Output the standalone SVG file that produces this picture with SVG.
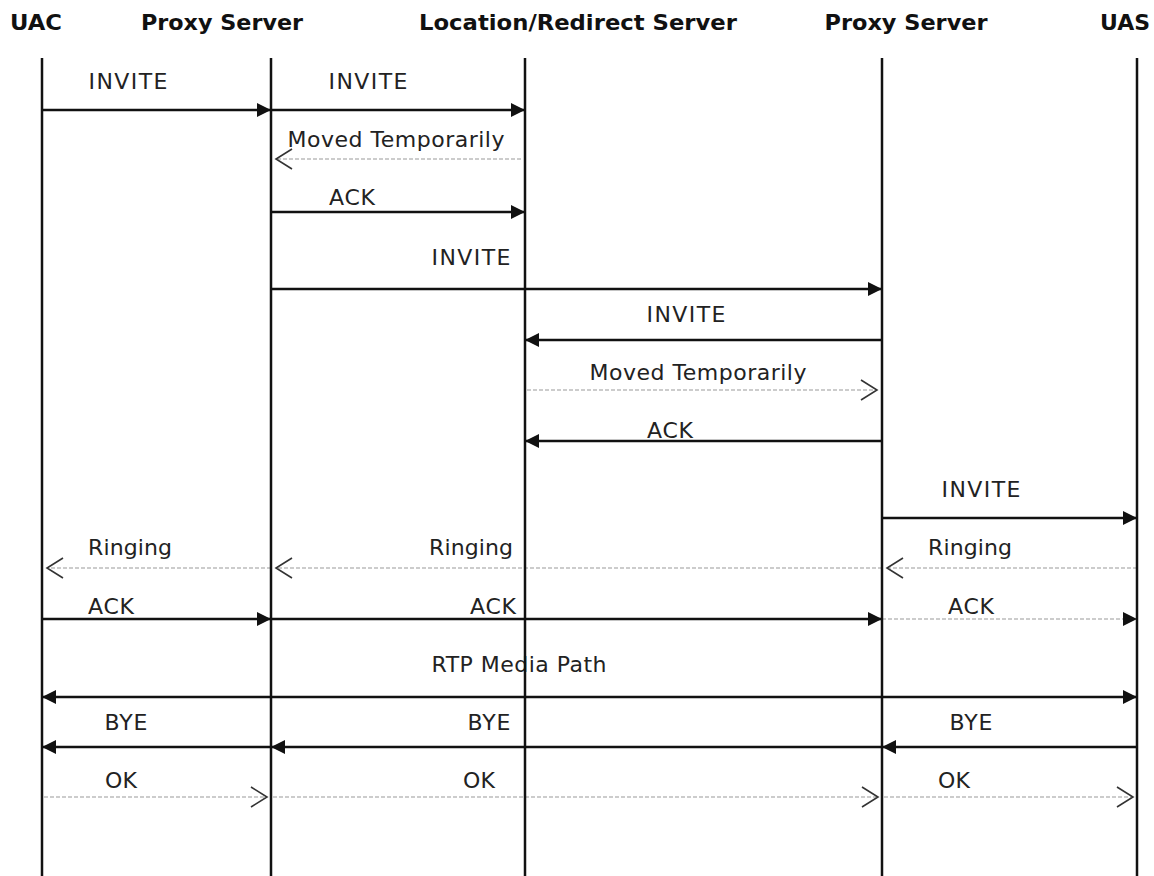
<svg xmlns="http://www.w3.org/2000/svg" width="1154" height="876" viewBox="0 0 1154 876">
<style>
.hdr{font-family:"DejaVu Sans","Liberation Sans",sans-serif;font-weight:bold;font-size:21px;fill:#111;text-anchor:middle}
.lbl{font-family:"DejaVu Sans","Liberation Sans",sans-serif;font-size:22px;fill:#222;text-anchor:middle}
.life{stroke:#111;stroke-width:2.5;fill:none}
.sol{stroke:#111;stroke-width:2.4;fill:none;marker-end:url(#fa)}
.dsh{stroke:#999;stroke-width:1.2;stroke-dasharray:4 2;fill:none;marker-end:url(#oa)}
.dshf{stroke:#999;stroke-width:1.2;stroke-dasharray:4 2;fill:none;marker-end:url(#fa)}
</style>
<defs>
<marker id="fa" markerUnits="userSpaceOnUse" markerWidth="15" markerHeight="16" refX="14" refY="8" orient="auto-start-reverse" viewBox="0 0 15 16">
<path d="M0,1 L14,8 L0,15 z" fill="#111"/>
</marker>
<marker id="oa" markerUnits="userSpaceOnUse" markerWidth="20" markerHeight="24" refX="17" refY="11" orient="auto" viewBox="0 0 20 24">
<path d="M1,1 L17,11 L1,21" fill="none" stroke="#333" stroke-width="1.6"/>
</marker>
</defs>
<rect width="1154" height="876" fill="#fff"/>
<g id="node-uac"><text class="hdr" x="36" y="30" textLength="52" lengthAdjust="spacingAndGlyphs">UAC</text></g>
<g id="node-proxy1"><text class="hdr" x="222" y="30" textLength="162" lengthAdjust="spacingAndGlyphs">Proxy Server</text></g>
<g id="node-location"><text class="hdr" x="578" y="30" textLength="318" lengthAdjust="spacingAndGlyphs">Location/Redirect Server</text></g>
<g id="node-proxy2"><text class="hdr" x="906" y="30" textLength="163" lengthAdjust="spacingAndGlyphs">Proxy Server</text></g>
<g id="node-uas"><text class="hdr" x="1125" y="30" textLength="50" lengthAdjust="spacingAndGlyphs">UAS</text></g>
<g id="labels">
<text class="lbl" x="128" y="89" textLength="79">INVITE</text>
<text class="lbl" x="368" y="89" textLength="79">INVITE</text>
<text class="lbl" x="396" y="147" textLength="217">Moved Temporarily</text>
<text class="lbl" x="352" y="205" textLength="46">ACK</text>
<text class="lbl" x="471" y="265" textLength="79">INVITE</text>
<text class="lbl" x="686" y="322" textLength="79">INVITE</text>
<text class="lbl" x="698" y="380" textLength="217">Moved Temporarily</text>
<text class="lbl" x="670" y="438" textLength="46">ACK</text>
<text class="lbl" x="981" y="497" textLength="79">INVITE</text>
<text class="lbl" x="970" y="555" textLength="84">Ringing</text>
<text class="lbl" x="471" y="555" textLength="84">Ringing</text>
<text class="lbl" x="130" y="555" textLength="84">Ringing</text>
<text class="lbl" x="111" y="614" textLength="46">ACK</text>
<text class="lbl" x="493" y="614" textLength="46">ACK</text>
<text class="lbl" x="971" y="614" textLength="46">ACK</text>
<text class="lbl" x="519" y="672" textLength="175">RTP Media Path</text>
<text class="lbl" x="971" y="730" textLength="43">BYE</text>
<text class="lbl" x="489" y="730" textLength="43">BYE</text>
<text class="lbl" x="126" y="730" textLength="43">BYE</text>
<text class="lbl" x="121" y="788" textLength="32">OK</text>
<text class="lbl" x="479" y="788" textLength="32">OK</text>
<text class="lbl" x="954" y="788" textLength="32">OK</text>
</g>
<g id="connectors">
<line class="sol" x1="42" y1="110" x2="271" y2="110"/>
<line class="sol" x1="271" y1="110" x2="525" y2="110"/>
<line class="dsh" x1="521" y1="159" x2="276" y2="159"/>
<line class="sol" x1="271" y1="212" x2="525" y2="212"/>
<line class="sol" x1="271" y1="289" x2="882" y2="289"/>
<line class="sol" x1="882" y1="340" x2="525" y2="340"/>
<line class="dsh" x1="527" y1="390" x2="877" y2="390"/>
<line class="sol" x1="882" y1="441" x2="525" y2="441"/>
<line class="sol" x1="882" y1="518" x2="1137" y2="518"/>
<line class="dsh" x1="1137" y1="568" x2="887" y2="568"/>
<line class="dsh" x1="882" y1="568" x2="276" y2="568"/>
<line class="dsh" x1="271" y1="568" x2="47" y2="568"/>
<line class="sol" x1="42" y1="619" x2="271" y2="619"/>
<line class="sol" x1="271" y1="619" x2="882" y2="619"/>
<line class="dshf" x1="882" y1="619" x2="1137" y2="619"/>
<line class="sol" x1="42" y1="697" x2="1137" y2="697" marker-start="url(#fa)"/>
<line class="sol" x1="1137" y1="747" x2="882" y2="747"/>
<line class="sol" x1="882" y1="747" x2="271" y2="747"/>
<line class="sol" x1="271" y1="747" x2="42" y2="747"/>
<line class="dsh" x1="44" y1="797" x2="267" y2="797"/>
<line class="dsh" x1="273" y1="797" x2="878" y2="797"/>
<line class="dsh" x1="884" y1="797" x2="1133" y2="797"/>
</g>
<g id="lifelines">
<line class="life" x1="42" y1="58" x2="42" y2="876"/>
<line class="life" x1="271" y1="58" x2="271" y2="876"/>
<line class="life" x1="525" y1="58" x2="525" y2="876"/>
<line class="life" x1="882" y1="58" x2="882" y2="876"/>
<line class="life" x1="1137" y1="58" x2="1137" y2="876"/>
</g>
</svg>
